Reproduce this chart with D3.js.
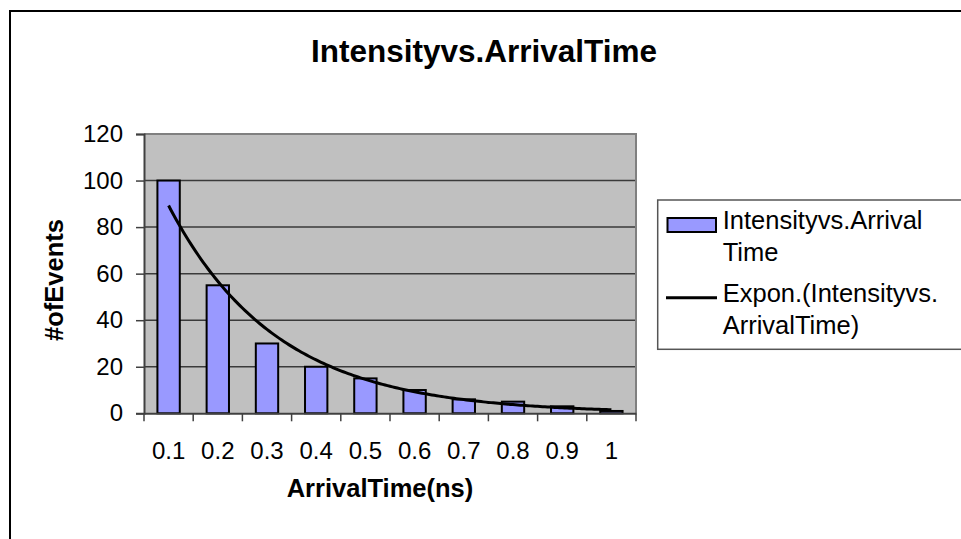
<!DOCTYPE html>
<html>
<head>
<meta charset="utf-8">
<script src="https://cdn.jsdelivr.net/npm/d3@7.9.0/dist/d3.min.js"></script>
<style>
  html, body { margin: 0; padding: 0; background: #fff; }
  svg { display: block; font-family: "Liberation Sans", Arial, sans-serif; }
</style>
</head>
<body>
<svg id="chart" width="961" height="539"></svg>
<script>
// data
const categories = ["0.1", "0.2", "0.3", "0.4", "0.5", "0.6", "0.7", "0.8", "0.9", "1"];
const counts = [100, 55, 30, 20, 15, 10, 6, 5, 3, 1];
const yTicks = [0, 20, 40, 60, 80, 100, 120];
const legendBar = ["Intensityvs.Arrival", "Time"];
const legendTrend = ["Expon.(Intensityvs.", "ArrivalTime)"];

const svg = d3.select("#chart");

// outer chart border (runs off the right and bottom edges)
svg.append("rect")
    .attr("x", 10).attr("y", 11)
    .attr("width", 1000).attr("height", 600)
    .attr("fill", "none").attr("stroke", "#000").attr("stroke-width", 2);

const plot = { left: 144, right: 636, top: 134, bottom: 413.3 };

const x = d3.scaleBand()
    .domain(categories)
    .range([plot.left, plot.right])
    .paddingInner(0.5455)
    .paddingOuter(0.2727);

const y = d3.scaleLinear()
    .domain([0, 120])
    .range([plot.bottom, plot.top]);

// plot background
svg.append("rect")
    .attr("x", plot.left).attr("y", plot.top)
    .attr("width", plot.right - plot.left).attr("height", plot.bottom - plot.top)
    .attr("fill", "#c0c0c0");

// gridlines
svg.append("g")
    .selectAll("line")
    .data(yTicks.filter(d => d > 0 && d < 120))
    .join("line")
    .attr("x1", plot.left).attr("x2", plot.right)
    .attr("y1", d => y(d)).attr("y2", d => y(d))
    .attr("stroke", "#3a3a3a").attr("stroke-width", 1.5);

// top + right plot border
svg.append("path")
    .attr("d", `M${plot.left},${y(120)}H${plot.right}V${plot.bottom}`)
    .attr("fill", "none").attr("stroke", "#808080").attr("stroke-width", 2);

// bars
svg.append("g")
    .selectAll("rect")
    .data(counts)
    .join("rect")
    .attr("x", (d, i) => x(categories[i]))
    .attr("y", d => y(d))
    .attr("width", x.bandwidth())
    .attr("height", d => y(0) - y(d))
    .attr("fill", "#9999ff")
    .attr("stroke", "#000").attr("stroke-width", 2);

// y axis
const yAxis = svg.append("g")
    .attr("transform", `translate(${plot.left},0)`)
    .call(d3.axisLeft(y).tickValues(yTicks).tickSize(8).tickPadding(13).tickFormat(d3.format("d")));
yAxis.select(".domain").attr("stroke", "#404040").attr("stroke-width", 2);
yAxis.selectAll(".tick line").attr("stroke", "#404040").attr("stroke-width", 1.5);
yAxis.selectAll("text").attr("font-size", 24).attr("fill", "#000")
    .attr("font-family", "Liberation Sans, Arial, sans-serif");

// x axis: ticks sit on category boundaries, labels at band centres
const step = x.step();
const bounds = categories.map(c => x(c) - (step - x.bandwidth()) / 2).concat([plot.right]);
const xAxis = svg.append("g")
    .attr("transform", `translate(0,${plot.bottom})`)
    .call(d3.axisBottom(x).tickSize(0).tickPadding(0));
xAxis.select(".domain").attr("stroke", "#404040").attr("stroke-width", 2);
xAxis.selectAll("text")
    .attr("y", 45.7).attr("dy", null)
    .attr("font-size", 24).attr("fill", "#000")
    .attr("font-family", "Liberation Sans, Arial, sans-serif");
xAxis.selectAll(".boundary")
    .data(bounds)
    .join("line")
    .attr("class", "boundary")
    .attr("x1", d => d).attr("x2", d => d)
    .attr("y1", 0).attr("y2", 8)
    .attr("stroke", "#404040").attr("stroke-width", 1.5);

// exponential trendline fitted (least squares on ln y) to the bar counts
const idx = counts.map((d, i) => i + 1);
const logs = counts.map(d => Math.log(d));
const mx = d3.mean(idx), my = d3.mean(logs);
const b = d3.sum(idx, (v, i) => (v - mx) * (logs[i] - my)) / d3.sum(idx, v => (v - mx) ** 2);
const a = my - b * mx;
const xt = d3.scaleLinear()
    .domain([1, categories.length])
    .range([x(categories[0]) + x.bandwidth() / 2, x(categories[categories.length - 1]) + x.bandwidth() / 2]);
const trend = d3.range(1, categories.length + 0.001, 0.05).map(t => [t, Math.exp(a + b * t)]);
svg.append("path")
    .datum(trend)
    .attr("d", d3.line().x(d => xt(d[0])).y(d => y(d[1])))
    .attr("fill", "none").attr("stroke", "#000").attr("stroke-width", 3);

// title
svg.append("text")
    .attr("x", 484).attr("y", 61.7)
    .attr("text-anchor", "middle")
    .attr("font-size", 31.5).attr("font-weight", "bold")
    .text("Intensityvs.ArrivalTime");

// axis titles
svg.append("text")
    .attr("transform", "translate(63,280) rotate(-90)")
    .attr("text-anchor", "middle")
    .attr("font-size", 25.5).attr("font-weight", "bold")
    .text("#ofEvents");

svg.append("text")
    .attr("x", 380).attr("y", 497.3)
    .attr("text-anchor", "middle")
    .attr("font-size", 25.5).attr("font-weight", "bold")
    .text("ArrivalTime(ns)");

// legend
const legend = svg.append("g");
legend.append("rect")
    .attr("x", 657.7).attr("y", 200)
    .attr("width", 400).attr("height", 149.3)
    .attr("fill", "#fff").attr("stroke", "#555").attr("stroke-width", 1.5);
legend.append("rect")
    .attr("x", 667.5).attr("y", 218)
    .attr("width", 48.5).attr("height", 14)
    .attr("fill", "#9999ff").attr("stroke", "#000").attr("stroke-width", 2);
legend.append("line")
    .attr("x1", 666).attr("x2", 717)
    .attr("y1", 297.7).attr("y2", 297.7)
    .attr("stroke", "#000").attr("stroke-width", 3);
legend.append("text")
    .attr("font-size", 25.5)
    .selectAll("tspan")
    .data(legendBar.concat(legendTrend))
    .join("tspan")
    .attr("x", 722.7)
    .attr("y", (d, i) => [229.3, 260.7, 302.3, 334][i])
    .text(d => d);
</script>
</body>
</html>
